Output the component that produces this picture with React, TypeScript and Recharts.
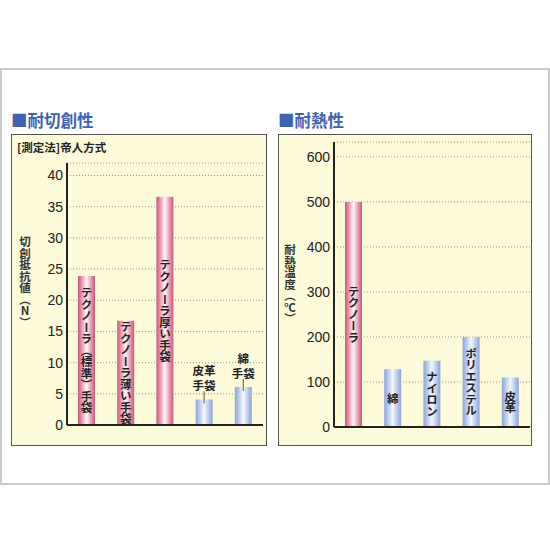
import { Bar, BarChart, CartesianGrid, Cell, LabelList, XAxis, YAxis } from 'recharts';

// 耐切創性 (帝人方式)
const cutNames = ['テクノーラ（標準）手袋', 'テクノーラ薄い手袋', 'テクノーラ厚い手袋', '皮革\n手袋', '綿\n手袋'];
const cutValues = [23.9, 16.7, 36.6, 4.1, 6.1];
const cutMaterials = ['technora', 'technora', 'technora', 'other', 'other'];
const cutTicks = [0, 5, 10, 15, 20, 25, 30, 35, 40];

// 耐熱性
const heatNames = ['テクノーラ', '綿', 'ナイロン', 'ポリエステル', '皮革'];
const heatValues = [500, 128, 147, 200, 110];
const heatMaterials = ['technora', 'other', 'other', 'other', 'other'];
const heatTicks = [0, 100, 200, 300, 400, 500, 600];

const cutData = cutNames.map((name, i) => ({ name, value: cutValues[i], material: cutMaterials[i] }));
const heatData = heatNames.map((name, i) => ({ name, value: heatValues[i], material: heatMaterials[i] }));

const JP = '"Noto Sans CJK JP", sans-serif';
const NUM = '"Liberation Sans", Arial, sans-serif';
const PANEL_BG = '#fdfbd9';
const BLUE = '#3f63ae';

function BarLabel(props: any) {
  const { x, y, width, height, value } = props;
  const cx = x + width / 2;
  const text = String(value);
  if (text.includes('\n')) {
    const [l1, l2] = text.split('\n');
    return (
      <g>
        <line x1={cx} x2={cx} y1={y - 8} y2={y + 4} stroke="#555" strokeWidth={1} />
        <text x={cx} y={y - 14} textAnchor="middle" dominantBaseline="central" fontSize={11.5} fontWeight={700} fill="#222" fontFamily={JP}>
          {l2}
        </text>
        <text x={cx} y={y - 29} textAnchor="middle" dominantBaseline="central" fontSize={11.5} fontWeight={700} fill="#222" fontFamily={JP}>
          {l1}
        </text>
      </g>
    );
  }
  return (
    <text
      x={cx}
      y={y + height / 2}
      textAnchor="middle"
      fontSize={11.5}
      fontWeight={700}
      fill="#222"
      fontFamily={JP}
      style={{ writingMode: 'vertical-rl' }}
    >
      {text}
    </text>
  );
}

function AxisTitle(props: any) {
  const { viewBox, text, dx = 0, dy = 0 } = props;
  return (
    <text
      x={viewBox.x + dx}
      y={viewBox.y + viewBox.height / 2 + dy}
      textAnchor="middle"
      fontSize={11.5}
      fontWeight={700}
      fill="#333"
      fontFamily={JP}
      style={{ writingMode: 'vertical-rl', textOrientation: 'upright' }}
    >
      {text}
    </text>
  );
}

function Gradients() {
  return (
    <defs>
      <linearGradient id="pinkBar" x1="0" x2="1" y1="0" y2="0">
        <stop offset="0" stopColor="#c9577a" />
        <stop offset="0.15" stopColor="#de819c" />
        <stop offset="0.35" stopColor="#f2c2d0" />
        <stop offset="0.5" stopColor="#fff6f8" />
        <stop offset="0.65" stopColor="#f2c2d0" />
        <stop offset="0.85" stopColor="#de819c" />
        <stop offset="1" stopColor="#c9577a" />
      </linearGradient>
      <linearGradient id="blueBar" x1="0" x2="1" y1="0" y2="0">
        <stop offset="0" stopColor="#8fa4d6" />
        <stop offset="0.15" stopColor="#aabce5" />
        <stop offset="0.35" stopColor="#d3def3" />
        <stop offset="0.5" stopColor="#f6f8fd" />
        <stop offset="0.65" stopColor="#d3def3" />
        <stop offset="0.85" stopColor="#aabce5" />
        <stop offset="1" stopColor="#8fa4d6" />
      </linearGradient>
    </defs>
  );
}

const tickStyle = { fontSize: 14, fill: '#222', fontFamily: NUM };

export default function App() {
  return (
    <div style={{ position: 'fixed', left: 0, top: 0, width: 550, height: 550, background: '#fff', fontFamily: JP }}>
      <div
        style={{
          position: 'absolute',
          left: 0,
          top: 68,
          width: 546,
          height: 413,
          border: '2px solid #c9c9c9',
          background: '#fff',
        }}
      />
      <div style={{ position: 'absolute', left: 11, top: 108, fontSize: 16.5, fontWeight: 700, color: BLUE, lineHeight: '24px' }}>
        ■耐切創性
      </div>
      <div style={{ position: 'absolute', left: 278, top: 108, fontSize: 16.5, fontWeight: 700, color: BLUE, lineHeight: '24px' }}>
        ■耐熱性
      </div>

      {/* left panel */}
      <div
        style={{
          position: 'absolute',
          left: 11,
          top: 134,
          width: 254,
          height: 310,
          border: '1.5px solid #555',
          background: PANEL_BG,
        }}
      />
      <div style={{ position: 'absolute', left: 17, top: 139, fontSize: 11.5, fontWeight: 700, color: '#222', lineHeight: '16px' }}>
        [測定法]帝人方式
      </div>
      <div style={{ position: 'absolute', left: 11, top: 134 }}>
        <BarChart width={257} height={313} data={cutData} margin={{ top: 29, right: 5, bottom: 0, left: 0 }}>
          <Gradients />
          <CartesianGrid vertical={false} stroke="#9f9a86" strokeDasharray="1 2" />
          <XAxis dataKey="name" tick={false} tickLine={false} height={22} axisLine={{ stroke: '#222', strokeWidth: 2 }} />
          <YAxis
            width={56}
            domain={[0, 42]}
            ticks={cutTicks}
            interval={0}
            tick={tickStyle}
            tickLine={false}
            tickSize={2}
            tickMargin={2}
            axisLine={{ stroke: '#222', strokeWidth: 2 }}
            label={<AxisTitle text="切創抵抗値（N）" dx={14} dy={-12} />}
          />
          <Bar dataKey="value" barSize={17} isAnimationActive={false}>
            {cutData.map((d) => (
              <Cell key={d.name} fill={d.material === 'technora' ? 'url(#pinkBar)' : 'url(#blueBar)'} />
            ))}
            <LabelList dataKey="name" content={<BarLabel />} />
          </Bar>
        </BarChart>
      </div>

      {/* right panel */}
      <div
        style={{
          position: 'absolute',
          left: 278,
          top: 134,
          width: 252,
          height: 310,
          border: '1.5px solid #555',
          background: PANEL_BG,
        }}
      />
      <div style={{ position: 'absolute', left: 278, top: 134 }}>
        <BarChart width={255} height={313} data={heatData} margin={{ top: 8, right: 3, bottom: 0, left: 0 }}>
          <Gradients />
          <CartesianGrid vertical={false} stroke="#9f9a86" strokeDasharray="1 2" />
          <XAxis dataKey="name" tick={false} tickLine={false} height={20} axisLine={{ stroke: '#222', strokeWidth: 2 }} />
          <YAxis
            width={56}
            domain={[0, 633]}
            ticks={heatTicks}
            interval={0}
            tick={tickStyle}
            tickLine={false}
            tickSize={2}
            tickMargin={2}
            axisLine={{ stroke: '#222', strokeWidth: 2 }}
            label={<AxisTitle text="耐熱温度（℃）" dx={12} dy={0} />}
          />
          <Bar dataKey="value" barSize={17} isAnimationActive={false}>
            {heatData.map((d) => (
              <Cell key={d.name} fill={d.material === 'technora' ? 'url(#pinkBar)' : 'url(#blueBar)'} />
            ))}
            <LabelList dataKey="name" content={<BarLabel />} />
          </Bar>
        </BarChart>
      </div>
    </div>
  );
}
